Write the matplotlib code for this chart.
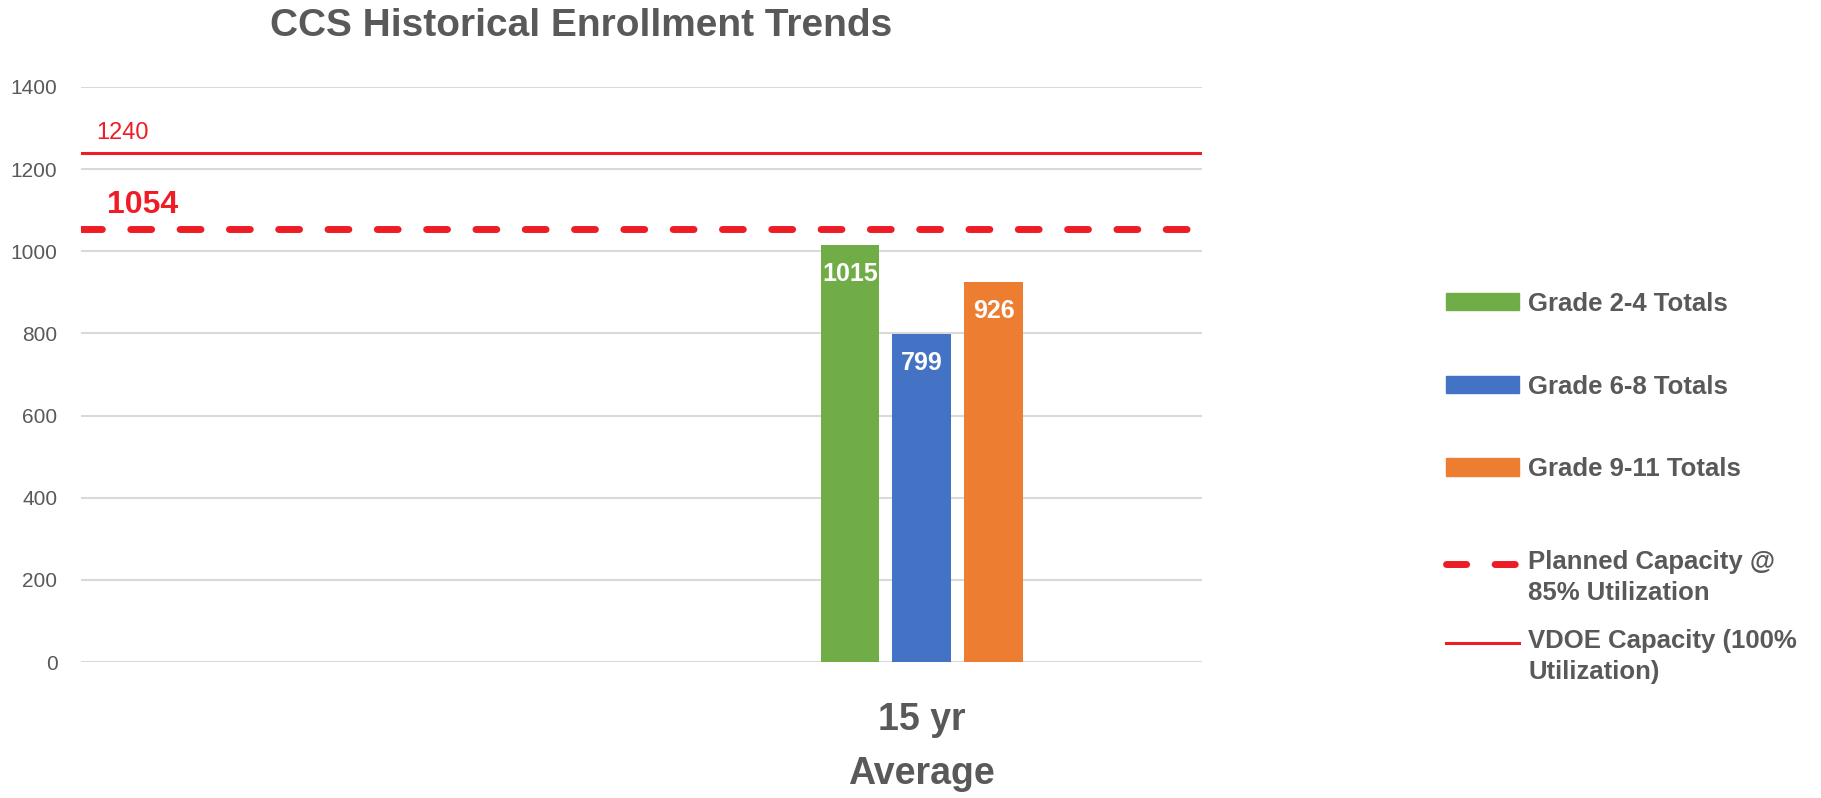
import numpy as np
import matplotlib.pyplot as plt
from matplotlib.lines import Line2D
from matplotlib.patches import Patch
from matplotlib.legend_handler import HandlerLine2D
import matplotlib.transforms as mtransforms

plt.rcParams['font.family'] = ['Liberation Sans', 'DejaVu Sans']

# data
categories = ["", "15 yr\nAverage"]
series_names = ["Grade 2-4 Totals", "Grade 6-8 Totals", "Grade 9-11 Totals"]
grade_2_4 = [None, 1015]
grade_6_8 = [None, 799]
grade_9_11 = [None, 926]
planned_capacity = 1054
vdoe_capacity = 1240

colors = ['#70AD47', '#4472C4', '#ED7D31']
red = '#EE1C25'
gray = '#595959'


class FirstLineHandler(HandlerLine2D):
    # put the legend line next to the first text line, like Excel does
    def create_artists(self, legend, orig_handle, xdescent, ydescent, width, height, fontsize, trans):
        arts = super().create_artists(legend, orig_handle, xdescent, ydescent, width, height, fontsize, trans)
        for a in arts:
            a.set_ydata(np.asarray(a.get_ydata()) + 10)
        return arts


fig = plt.figure(figsize=(18.21, 7.98), dpi=100)
ax = fig.add_axes([81 / 1821, 1 - 662 / 798, 1121 / 1821, 575 / 798])

x = list(range(len(categories)))
width = 0.105
step = 0.128
for i, (vals, name, c) in enumerate(zip([grade_2_4, grade_6_8, grade_9_11], series_names, colors)):
    pts = [(xi + (i - 1) * step, v) for xi, v in zip(x, vals) if v is not None]
    xs = [p[0] for p in pts]
    ys = [p[1] for p in pts]
    ax.bar(xs, ys, width=width, color=c, label=name, zorder=2)
    for xv, v in pts:
        ax.annotate(str(v), (xv, v), xytext=(0, -21), textcoords='offset points',
                    ha='center', va='center', color='white', fontsize=18, fontweight='bold', zorder=3)

# capacity lines
ax.axhline(planned_capacity, color=red, lw=5, dashes=(3.0, 4.1), dash_capstyle='round', zorder=3)
ax.axhline(vdoe_capacity, color=red, lw=2.2, zorder=3)

trans = mtransforms.blended_transform_factory(ax.transAxes, ax.transData)
ax.annotate(str(vdoe_capacity), (0.014, vdoe_capacity), xycoords=trans, xytext=(0, 14),
            textcoords='offset points', ha='left', va='center', color=red, fontsize=17)
ax.annotate(str(planned_capacity), (0.023, planned_capacity), xycoords=trans, xytext=(0, 17),
            textcoords='offset points', ha='left', va='center', color=red, fontsize=23, fontweight='bold')

ax.set_xlim(-0.5, 1.5)
ax.set_ylim(0, 1400)
ax.set_yticks(range(0, 1401, 200))
ax.set_xticks(x)
ax.set_xticklabels(categories, fontsize=27, fontweight='bold', color=gray, linespacing=1.65)
ax.tick_params(axis='y', length=0, pad=17, labelsize=15, labelcolor=gray)
ax.tick_params(axis='x', length=0, pad=29)
ax.grid(axis='y', color='#D9D9D9', lw=1.5, zorder=0)
ax.set_axisbelow(True)
for s in ax.spines.values():
    s.set_visible(False)

fig.text(581 / 1821, 1 - 26 / 798, "CCS Historical Enrollment Trends", ha='center', va='center',
         fontsize=28, fontweight='bold', color=gray)

# legend: bars, then capacity lines
bar_handles = [Patch(color=c) for c in colors]
leg1 = fig.legend(bar_handles, series_names, loc='center left', bbox_to_anchor=(1446 / 1821, 1 - 386.5 / 798),
                  frameon=False, fontsize=18.5, labelspacing=2.28, handlelength=2.85, handleheight=0.65,
                  handletextpad=0.35, borderpad=0, borderaxespad=0)
line_handles = [
    Line2D([0], [0], color=red, lw=5, dashes=(2.9, 4.1), dash_capstyle='round'),
    Line2D([0], [0], color=red, lw=2.2),
]
line_labels = ["Planned Capacity @\n85% Utilization", "VDOE Capacity (100%\nUtilization)"]
leg2 = fig.legend(line_handles, line_labels, loc='center left', bbox_to_anchor=(1446 / 1821, 1 - 617 / 798),
                  frameon=False, fontsize=18.5, labelspacing=0.9, handlelength=2.85,
                  handletextpad=0.35, borderpad=0, borderaxespad=0,
                  handler_map={Line2D: FirstLineHandler()})
for leg in (leg1, leg2):
    for t in leg.get_texts():
        t.set_color(gray)
        t.set_fontweight('bold')
        t.set_linespacing(1.38)

fig.savefig('out.png', dpi=100)
